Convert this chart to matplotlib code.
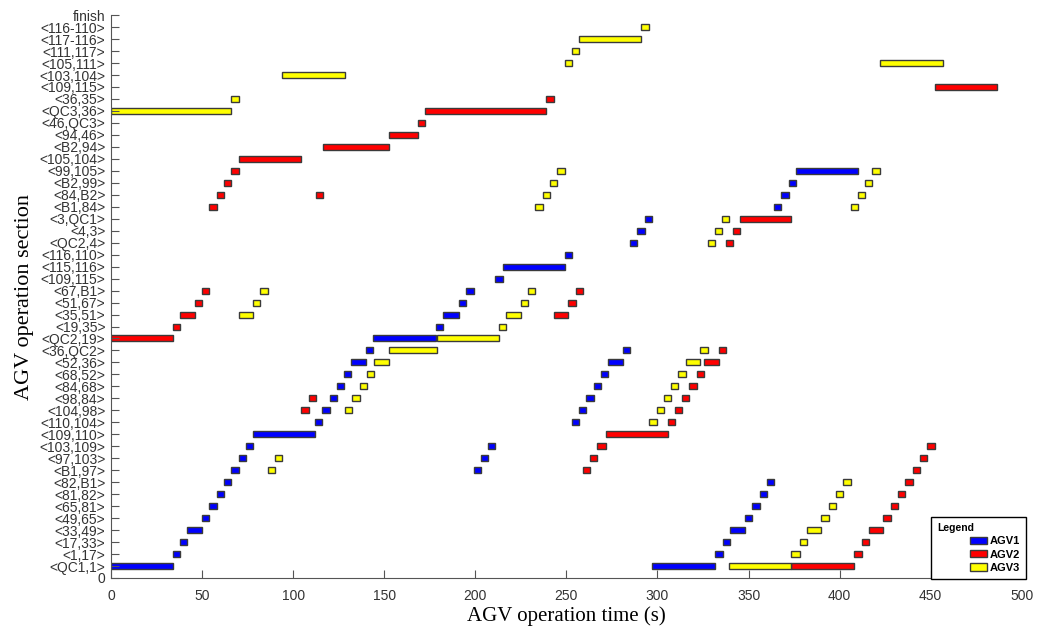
import matplotlib.pyplot as plt
from matplotlib.patches import Patch, Rectangle
from matplotlib.legend_handler import HandlerPatch

# etiquetas do eixo y (indice = linha)
secoes = ['0', '<QC1,1>', '<1,17>', '<17,33>', '<33,49>', '<49,65>', '<65,81>',
          '<81,82>', '<82,B1>', '<B1,97>', '<97,103>', '<103,109>', '<109,110>',
          '<110,104>', '<104,98>', '<98,84>', '<84,68>', '<68,52>', '<52,36>',
          '<36,QC2>', '<QC2,19>', '<19,35>', '<35,51>', '<51,67>', '<67,B1>',
          '<109,115>', '<115,116>', '<116,110>', '<QC2,4>', '<4,3>', '<3,QC1>',
          '<B1,84>', '<84,B2>', '<B2,99>', '<99,105>', '<105,104>', '<B2,94>',
          '<94,46>', '<46,QC3>', '<QC3,36>', '<36,35>', '<109,115>', '<103,104>',
          '<105,111>', '<111,117>', '<117-116>', '<116-110>', 'finish']

# AGV1
agv1_linha = [1, 2, 3, 4, 5, 6, 7, 8, 9, 10, 11, 12, 13, 14, 15, 16, 17, 18, 19, 20,
              21, 22, 23, 24, 9, 10, 11, 25, 26, 27, 13, 14, 15, 16, 17, 18, 19,
              28, 29, 30, 1, 2, 3, 4, 5, 6, 7, 8, 31, 32, 33, 34]
agv1_inicio = [0, 34, 38, 42, 50, 54, 58, 62, 66, 70, 74, 78, 112, 116, 120, 124, 128, 132, 140, 144,
               178.5, 182.5, 191, 195, 199, 203, 207, 211, 215, 249, 253, 257, 261, 265, 269, 273, 281,
               285, 289, 293, 297, 331.5, 336, 340, 348, 352, 356, 360, 364, 368, 372, 376]
agv1_fim = [34, 38, 42, 50, 54, 58, 62, 66, 70, 74, 78, 112, 116, 120, 124, 128, 132, 140, 144, 178.5,
            182.5, 191, 195, 199, 203, 207, 211, 215, 249, 253, 257, 261, 265, 269, 273, 281, 285,
            289, 293, 297, 331.5, 336, 340, 348, 352, 356, 360, 364, 368, 372, 376, 410]

# AGV2
agv2_linha = [20, 21, 22, 23, 24, 31, 32, 33, 34, 35, 14, 15, 32, 36, 37, 38, 39, 40,
              22, 23, 24, 9, 10, 11, 12, 13, 14, 15, 16, 17, 18, 19, 28, 29, 30,
              1, 2, 3, 4, 5, 6, 7, 8, 9, 10, 11, 41]
agv2_inicio = [0, 34, 38, 46, 50, 54, 58, 62, 66, 70, 104.5, 108.5, 112.5, 116.5, 152.5, 168.5, 172.5, 239,
               243, 251, 255, 259, 263, 267, 271.5, 305.5, 309.5, 313.5, 317.5, 321.5, 325.5, 333.5,
               337.5, 341.5, 345.5, 373.5, 408, 412, 416, 424, 428, 432, 436, 440, 444, 448, 452.5]
agv2_fim = [34, 38, 46, 50, 54, 58, 62, 66, 70, 104.5, 108.5, 112.5, 116.5, 152.5, 168.5, 172.5, 239, 243,
            251, 255, 259, 263, 267, 271.5, 305.5, 309.5, 313.5, 317.5, 321.5, 325.5, 333.5, 337.5,
            341.5, 345.5, 373.5, 408, 412, 416, 424, 428, 432, 436, 440, 444, 448, 452.5, 486.5]

# AGV3
agv3_linha = [39, 40, 22, 23, 24, 9, 10, 42, 14, 15, 16, 17, 18, 19, 20, 21, 22, 23, 24,
              31, 32, 33, 34, 43, 44, 45, 46, 13, 14, 15, 16, 17, 18, 19, 28, 29, 30,
              1, 2, 3, 4, 5, 6, 7, 8, 31, 32, 33, 34, 43]
agv3_inicio = [0, 66, 70, 78, 82, 86, 90, 94, 128.5, 132.5, 136.5, 140.5, 144.5, 152.5, 179, 213, 217, 225, 229,
               233, 237, 241, 245, 249, 253, 257, 291, 295.5, 299.5, 303.5, 307.5, 311.5, 315.5, 323.5,
               327.5, 331.5, 335.5, 339.5, 373.5, 378, 382, 390, 394, 398, 402, 406, 410, 414, 418, 422]
agv3_fim = [66, 70, 78, 82, 86, 90, 94, 128.5, 132.5, 136.5, 140.5, 144.5, 152.5, 179, 213, 217, 225, 229, 233,
            237, 241, 245, 249, 253, 257, 291, 295.5, 299.5, 303.5, 307.5, 311.5, 315.5, 323.5, 327.5,
            331.5, 335.5, 339.5, 373.5, 378, 382, 390, 394, 398, 402, 406, 410, 414, 418, 422, 456.5]

agvs = [('AGV1', '#0000ff', agv1_linha, agv1_inicio, agv1_fim),
        ('AGV2', '#ff0000', agv2_linha, agv2_inicio, agv2_fim),
        ('AGV3', '#ffff00', agv3_linha, agv3_inicio, agv3_fim)]

fig = plt.figure(figsize=(10.53, 6.31), dpi=100)
ax = fig.add_axes([0.1054, 0.084, 0.865, 0.892])

for nome, cor, linhas, ini, fim in agvs:
    larguras = [f - i for i, f in zip(ini, fim)]
    ax.barh(linhas, larguras, left=ini, height=0.5, color=cor,
            edgecolor='#3a3a3a', linewidth=1.0)

ax.set_xlim(0, 500)
ax.set_ylim(0, len(secoes) - 1)
ax.set_yticks(range(len(secoes)))
ax.set_yticklabels(secoes, fontsize=10, family='Liberation Sans', color='#333333')
ax.set_xticks(range(0, 501, 50))
ax.set_xticklabels([str(v) for v in range(0, 501, 50)], fontsize=10,
                   family='Liberation Sans', color='#333333')
ax.tick_params(direction='in', length=5.5, color='#555555')
ax.tick_params(axis='y', pad=4)
ax.tick_params(axis='x', pad=8)

for lado in ['top', 'right']:
    ax.spines[lado].set_visible(False)
for lado in ['left', 'bottom']:
    ax.spines[lado].set_color('#555555')

ax.set_xlabel('AGV operation time (s)', fontsize=15, family='Liberation Serif', labelpad=2)
ax.set_ylabel('AGV operation section', fontsize=16, family='Liberation Serif', labelpad=4)


# retangulo do handle encostado a direita, para as entradas ficarem alinhadas a direita
def patch_direita(legend, orig_handle, xdescent, ydescent, width, height, fontsize):
    w = 12.2
    return Rectangle((width - w - xdescent, -ydescent), w, height)


handles = [Patch(facecolor=c, edgecolor='#3a3a3a', label=n) for n, c, *_ in agvs]
leg = ax.legend(handles=handles, title='Legend', loc='lower right',
                bbox_to_anchor=(1.005, -0.002), borderaxespad=0,
                fancybox=False, edgecolor='black', framealpha=1,
                prop={'family': 'Liberation Sans', 'weight': 'bold', 'size': 8},
                alignment='left',
                title_fontproperties={'family': 'Liberation Sans', 'weight': 'bold', 'size': 7.5},
                handlelength=4.5, handleheight=0.65, labelspacing=0.3,
                handletextpad=0.25, borderpad=0.55,
                handler_map={Patch: HandlerPatch(patch_func=patch_direita)})
leg.get_frame().set_linewidth(1.0)

fig.savefig('out.png', dpi=100)
